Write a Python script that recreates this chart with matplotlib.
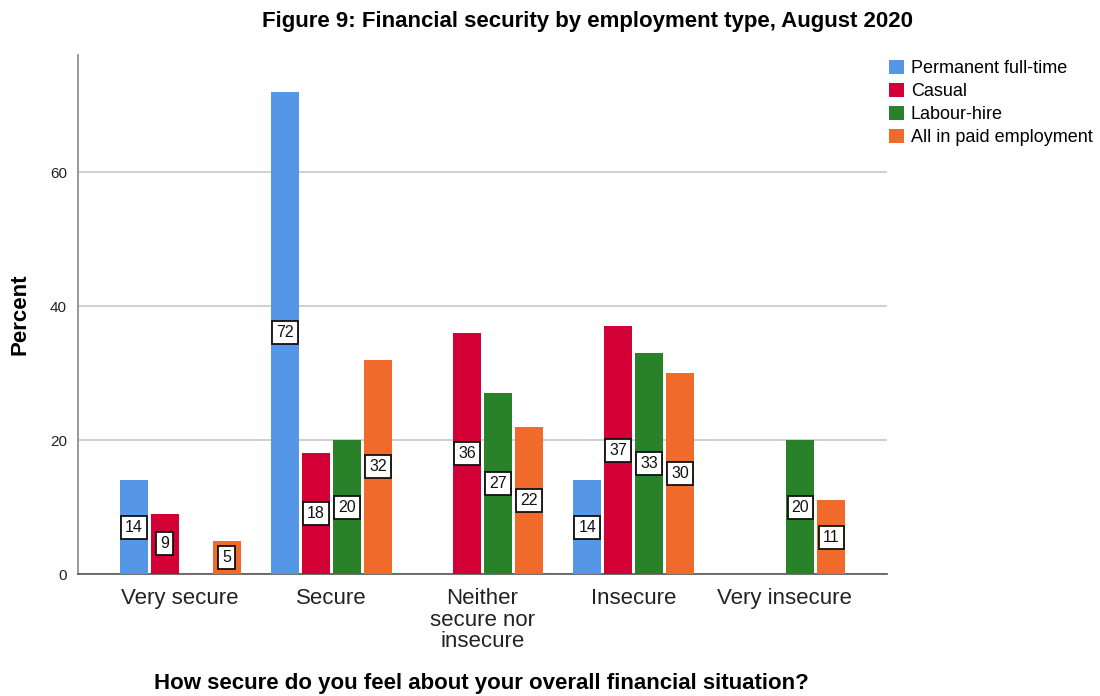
import matplotlib
matplotlib.use("Agg")
import matplotlib.pyplot as plt
import numpy as np

plt.rcParams['font.family'] = ['Liberation Sans', 'DejaVu Sans']

categories = ["Very secure", "Secure", "Neither\nsecure nor\ninsecure", "Insecure", "Very insecure"]
series_names = ["Permanent full-time", "Casual", "Labour-hire", "All in paid employment"]
permanent = [14, 72, 0, 14, 0]
casual = [9, 18, 36, 37, 0]
labour_hire = [0, 20, 27, 33, 20]
all_paid = [5, 32, 22, 30, 11]
colors = ["#5596E6", "#D20034", "#29822A", "#F06B2B"]

fig = plt.figure(figsize=(11, 6.96), dpi=100)
ax = fig.add_axes([78/1100, 1-574/696, (887-78)/1100, (574-55)/696])

x = np.arange(len(categories))
step = 0.205
width = 0.185
all_series = [permanent, casual, labour_hire, all_paid]
for i, (vals, name, col) in enumerate(zip(all_series, series_names, colors)):
    pos = x + (i - 1.5) * step
    ax.bar(pos, vals, width=width, color=col, label=name, linewidth=0, zorder=3)
    for p, v in zip(pos, vals):
        if v > 0:
            ax.text(p, v/2, f"{v}", ha='center', va='center', fontsize=11.5, zorder=5,
                    color='#111111',
                    bbox=dict(boxstyle='square,pad=0.25', facecolor='white', edgecolor='#111111', linewidth=1.3))

ax.set_xlim(-0.675, 4.675)
ax.set_ylim(0, 77.5)
ax.set_yticks([0, 20, 40, 60])
ax.set_xticks(x)
ax.set_xticklabels(categories, fontsize=16, color='#222222', linespacing=1.05)
ax.tick_params(axis='x', length=0, pad=10)
ax.tick_params(axis='y', length=0, labelsize=11, pad=8, labelcolor='#222222')
ax.yaxis.grid(True, color='#C8C8C8', linewidth=1.2, zorder=0)
ax.set_axisbelow(True)
for s in ['top', 'right']:
    ax.spines[s].set_visible(False)
ax.spines['left'].set_color('#888888')
ax.spines['bottom'].set_color('#555555')
ax.spines['left'].set_linewidth(1.2)
ax.spines['bottom'].set_linewidth(1.2)

fig.text(20/1100, 1-314/696, "Percent", rotation=90, ha='center', va='center', fontsize=16, fontweight='bold')
fig.text(587/1100, 1-21/696, "Figure 9: Financial security by employment type, August 2020",
         ha='center', va='center', fontsize=16, fontweight='bold')
fig.text(481/1100, 1-684/696, "How secure do you feel about your overall financial situation?",
         ha='center', va='center', fontsize=16, fontweight='bold')

leg = fig.legend(loc='upper left', bbox_to_anchor=(889/1100, 1-60/696), frameon=False,
                 fontsize=13, handlelength=0.85, handleheight=0.85, handletextpad=0.35,
                 labelspacing=0.3, borderaxespad=0, borderpad=0)

fig.savefig("out.png", dpi=100)
